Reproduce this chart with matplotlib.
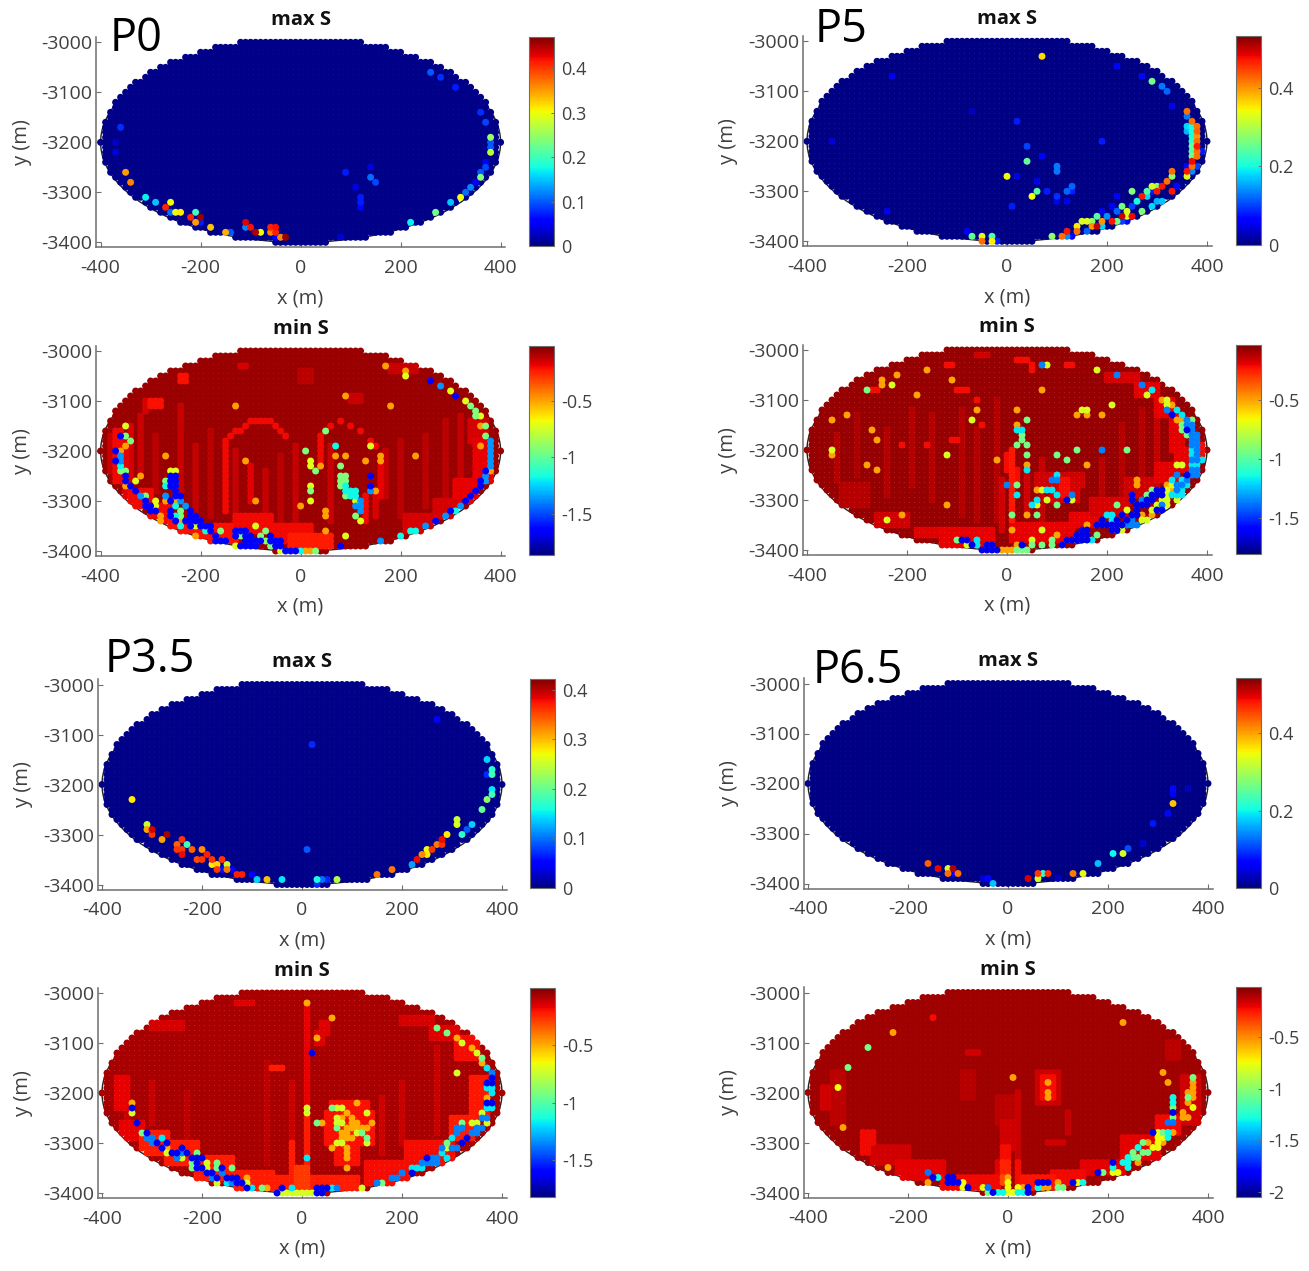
import numpy as np
import matplotlib
matplotlib.use('Agg')
import matplotlib.pyplot as plt
from matplotlib.patches import Ellipse
from matplotlib.cm import ScalarMappable
from matplotlib.colors import Normalize

plt.rcParams['font.family'] = ['Open Sans', 'DejaVu Sans']
plt.rcParams['axes.unicode_minus'] = False

W, H = 1309, 1271
GRAY = '#404040'
AXC = '#6e6e6e'

# fault plane sampling: 10 m grid, everything else is the background level
x_nodes = np.arange(-400, 401, 10)
y_nodes = np.arange(-3000, -3401, -10)

# max S: nodes that stand out, (x, y, S)
p0_max = [(-360,-3170,.08),(-370,-3200,.03),(-370,-3220,.04),(-350,-3260,.35),(-340,-3280,.36),(-310,-3310,.17),
    (-290,-3320,.15),(-260,-3320,.3),(-270,-3330,.41),(-260,-3340,.11),(-250,-3340,.3),(-240,-3340,.31),(-210,-3340,.2),
    (-220,-3350,.41),(-200,-3350,.46),(-210,-3360,.35),(-200,-3360,.07),(-180,-3370,.33),(-150,-3380,.34),(-140,-3380,.1),
    (-110,-3360,.43),(-110,-3370,.12),(-100,-3370,.42),(-90,-3380,.45),(-80,-3380,.3),(-60,-3370,.41),(-50,-3370,.42),
    (-60,-3380,.36),(-50,-3380,.41),(-40,-3390,.36),(-30,-3390,.46),(-50,-3390,.06),(90,-3260,.07),(140,-3250,.04),
    (140,-3270,.11),(150,-3280,.09),(110,-3290,.04),(120,-3310,.07),(120,-3320,.07),(120,-3330,.06),(80,-3390,.04),
    (260,-3060,.1),(280,-3070,.08),(310,-3090,.07),(360,-3140,.08),(370,-3160,.09),(380,-3190,.25),(380,-3200,.1),
    (380,-3210,.1),(380,-3220,.27),(370,-3240,.06),(370,-3250,.09),(360,-3260,.1),(360,-3270,.24),(350,-3280,.05),
    (340,-3290,.12),(330,-3300,.11),(320,-3310,.3),(300,-3320,.15),(270,-3340,.23),(220,-3360,.17)]

p5_max = [(70,-3030,.36),(220,-3050,.06),(270,-3070,.07),(290,-3080,.26),(310,-3090,.13),(320,-3100,.12),(330,-3130,.05),
    (360,-3140,.42),(360,-3150,.13),(370,-3160,.42),(380,-3170,.42),(360,-3170,.18),(370,-3170,.2),(360,-3180,.16),
    (370,-3180,.2),(380,-3180,.43),(370,-3190,.2),(380,-3190,.4),(370,-3200,.22),(380,-3200,.42),(370,-3210,.25),
    (380,-3210,.47),(370,-3220,.24),(380,-3220,.42),(370,-3230,.26),(380,-3230,.42),(390,-3220,.08),(370,-3240,.48),
    (360,-3250,.07),(370,-3250,.42),(380,-3250,.1),(360,-3260,.47),(370,-3260,.14),(360,-3270,.33),(330,-3260,.42),
    (330,-3270,.28),(320,-3280,.42),(310,-3290,.47),(290,-3290,.32),(300,-3290,.27),(340,-3290,.07),(280,-3300,.24),
    (300,-3300,.47),(290,-3300,.08),(330,-3300,.47),(250,-3300,.27),(270,-3310,.47),(280,-3310,.18),(220,-3310,.06),
    (260,-3320,.2),(300,-3320,.16),(310,-3320,.17),(290,-3330,.18),(250,-3330,.1),(230,-3330,.26),(210,-3330,.06),
    (270,-3340,.27),(240,-3340,.33),(220,-3340,.12),(190,-3340,.05),(180,-3350,.24),(200,-3350,.14),(230,-3350,.5),
    (240,-3350,.33),(250,-3350,.48),(150,-3360,.33),(160,-3360,.33),(170,-3360,.28),(190,-3360,.4),(210,-3360,.47),
    (220,-3360,.26),(230,-3360,.1),(240,-3360,.07),(140,-3370,.35),(170,-3370,.4),(180,-3370,.5),(190,-3370,.18),
    (160,-3380,.12),(140,-3380,.42),(120,-3380,.47),(90,-3390,.28),(110,-3390,.42),(120,-3390,.14),(130,-3390,.06),
    (-80,-3380,.06),(-70,-3390,.25),(-50,-3390,.33),(-30,-3390,.24),(-50,-3400,.42),(-30,-3400,.35),(-20,-3400,.08),
    (20,-3160,.08),(40,-3210,.1),(40,-3240,.25),(70,-3230,.06),(100,-3250,.13),(100,-3260,.13),(0,-3270,.34),
    (20,-3270,.05),(60,-3280,.05),(60,-3300,.24),(50,-3310,.34),(80,-3300,.08),(100,-3310,.09),(100,-3320,.05),
    (120,-3320,.05),(120,-3300,.12),(130,-3290,.12),(130,-3300,.08),(10,-3330,.08),(190,-3200,.08),(-70,-3140,.03),
    (-230,-3070,.05),(-350,-3200,.04),(-240,-3340,.05)]

p35_max = [(270,-3070,.05),(20,-3120,.07),(370,-3150,.14),(380,-3170,.17),(380,-3180,.18),(370,-3180,.07),(380,-3210,.15),
    (380,-3220,.18),(370,-3230,.22),(360,-3250,.2),(-340,-3230,.28),(310,-3270,.25),(310,-3280,.26),(340,-3280,.14),
    (330,-3290,.09),(320,-3300,.17),(290,-3300,.28),(280,-3310,.38),(270,-3320,.33),(280,-3320,.36),(250,-3330,.27),
    (260,-3330,.36),(240,-3340,.32),(250,-3340,.28),(230,-3350,.38),(220,-3360,.12),(180,-3370,.33),(150,-3380,.33),
    (10,-3330,.09),(-310,-3280,.25),(-310,-3290,.31),(-300,-3290,.39),(-300,-3300,.36),(-270,-3300,.41),(-280,-3310,.31),
    (-240,-3310,.36),(-250,-3320,.34),(-230,-3320,.18),(-220,-3330,.34),(-250,-3330,.36),(-240,-3330,.36),(-200,-3330,.32),
    (-240,-3340,.38),(-190,-3340,.37),(-210,-3350,.35),(-200,-3350,.36),(-180,-3350,.36),(-160,-3350,.36),(-180,-3360,.28),
    (-170,-3360,.29),(-150,-3360,.25),(-170,-3370,.36),(-160,-3370,.06),(-150,-3370,.33),(-140,-3370,.05),(-130,-3380,.37),
    (-120,-3380,.37),(-100,-3380,.05),(-90,-3390,.14),(-70,-3390,.3),(-40,-3390,.15),(30,-3390,.16),(40,-3390,.1),
    (50,-3390,.07),(70,-3390,.24),(30,-3400,.07)]

p65_max = [(330,-3210,.07),(330,-3220,.06),(360,-3210,.03),(330,-3240,.38),(320,-3260,.07),(290,-3280,.08),(270,-3320,.04),
    (240,-3330,.11),(230,-3340,.33),(210,-3340,.2),(180,-3360,.17),(150,-3380,.34),(130,-3380,.42),(80,-3380,.47),
    (70,-3380,.22),(60,-3380,.46),(60,-3390,.33),(40,-3390,.5),(100,-3390,.03),(-30,-3400,.17),(-40,-3390,.07),
    (-50,-3390,.04),(-100,-3380,.43),(-110,-3380,.06),(-120,-3380,.43),(-120,-3370,.33),(-110,-3370,.52),(-140,-3370,.49),
    (-160,-3360,.44)]

# min S levels by colour band, then the nodes that sit in each band
s_levels = [-1.64, -1.36, -1.18, -.94, -.72, -.5]
s_levels_65 = [-1.85, -1.55, -1.3, -1.05, -.75, -.55]

p0_blue = [(-360,-3170),(-370,-3200),(-370,-3220),(-350,-3250),(-350,-3260),(-340,-3270),(-330,-3280),(-310,-3300),
    (-310,-3310),(-300,-3310),(-300,-3320),(-290,-3320),(-260,-3250),(-260,-3260),(-260,-3270),(-250,-3250),(-250,-3260),
    (-250,-3270),(-250,-3280),(-250,-3290),(-240,-3290),(-260,-3300),(-260,-3320),(-260,-3330),(-220,-3320),(-220,-3330),
    (-210,-3330),(-220,-3340),(-210,-3340),(-200,-3340),(-220,-3350),(-200,-3350),(-190,-3350),(-180,-3350),(-250,-3340),
    (-230,-3340),(-180,-3360),(-170,-3370),(-170,-3380),(-160,-3380),(-150,-3380),(-130,-3360),(-120,-3360),(-110,-3360),
    (-130,-3370),(-110,-3370),(-100,-3370),(-110,-3380),(-100,-3380),(-90,-3380),(-80,-3380),(-120,-3390),(-110,-3390),
    (-100,-3390),(-90,-3390),(-60,-3370),(-60,-3380),(-50,-3380),(-40,-3380),(-50,-3390),(-40,-3390),(-30,-3400),
    (-20,-3400),(-10,-3400),(80,-3390),(260,-3060),(310,-3090),(360,-3260),(360,-3270),(350,-3280),(340,-3290),(330,-3300),
    (300,-3320),(270,-3340),(370,-3240),(140,-3250),(140,-3270)]
p0_azure = [(-360,-3210),(-360,-3220),(-270,-3290),(-320,-3290),(-240,-3300),(-230,-3310),(280,-3070),(380,-3180),
    (380,-3190),(380,-3200),(380,-3210),(380,-3220),(380,-3230),(370,-3250),(370,-3260),(320,-3310),(290,-3330),(250,-3350),
    (160,-3380),(120,-3300),(120,-3310),(120,-3320),(110,-3310),(140,-3280)]
p0_cyan = [(-360,-3230),(-270,-3270),(-250,-3310),(-250,-3330),(-240,-3350),(70,-3190),(90,-3270),(90,-3280),(100,-3280),
    (110,-3280),(100,-3290),(110,-3290),(310,-3320),(230,-3360),(220,-3360),(200,-3370),(0,-3400),(-190,-3360)]
p0_green = [(-350,-3170),(-340,-3180),(-360,-3240),(-350,-3240),(-270,-3260),(-310,-3290),(-240,-3320),(-240,-3330),
    (-120,-3370),(-70,-3360),(-80,-3370),(-70,-3380),(-60,-3390),(30,-3400),(50,-3160),(10,-3200),(30,-3240),(80,-3230),
    (80,-3250),(90,-3250),(80,-3260),(90,-3260),(80,-3270),(90,-3290),(20,-3280),(110,-3330),(340,-3110),(350,-3120),
    (350,-3130),(370,-3150),(370,-3170),(-160,-3360)]
p0_yellow = [(-350,-3150),(-260,-3240),(-250,-3240),(-290,-3300),(-290,-3310),(-330,-3260),(-210,-3350),(-130,-3390),
    (-90,-3350),(-40,-3400),(20,-3220),(20,-3230),(20,-3270),(20,-3300),(110,-3300),(120,-3340),(140,-3190),(90,-3370),
    (300,-3080),(330,-3100),(360,-3130),(210,-3050)]
p0_orange = [(-320,-3250),(-270,-3210),(-350,-3270),(-270,-3300),(-250,-3300),(-280,-3330),(-280,-3340),(-240,-3340),
    (-130,-3110),(-110,-3220),(-90,-3300),(0,-3310),(50,-3320),(50,-3360),(50,-3330),(70,-3210),(90,-3210),(160,-3210),
    (160,-3220),(130,-3220),(150,-3280),(170,-3030),(210,-3040),(180,-3110),(90,-3090),(230,-3210),(360,-3190),(380,-3240),
    (10,-3400),(20,-3400),(-210,-3370),(40,-3230),(360,-3150),(-350,-3190),(-360,-3200)]
# (x from, x to, y from, y to, S) stretches of the weaker and stronger red
p0_blocks = [(-380,-380,-3170,-3240,-.14),(-350,-350,-3180,-3290,-.18),(-340,-340,-3150,-3300,-.16),(-370,-360,-3160,-3260,-.2),
    (-320,-320,-3130,-3240,-.14),(-300,-280,-3100,-3110,-.22),(-310,-310,-3100,-3120,-.16),(-240,-230,-3050,-3060,-.22),
    (-290,-290,-3170,-3280,-.12),(-240,-240,-3110,-3280,-.14),(-210,-210,-3190,-3320,-.13),(-180,-180,-3160,-3330,-.12),
    (-150,-150,-3180,-3320,-.2),(-130,-130,-3200,-3330,-.13),(-100,-100,-3230,-3300,-.18),(-70,-70,-3240,-3330,-.13),
    (-40,-40,-3210,-3340,-.12),(-10,-10,-3190,-3360,-.13),(-100,-60,-3140,-3140,-.2),(-110,-110,-3150,-3150,-.2),
    (-50,-50,-3150,-3150,-.2),(-130,-120,-3160,-3160,-.2),(-40,-40,-3160,-3160,-.2),(-30,-30,-3170,-3170,-.2),
    (-140,-140,-3170,-3170,-.2),(40,40,-3170,-3230,-.2),(60,60,-3150,-3150,-.2),(80,80,-3140,-3140,-.2),
    (100,100,-3150,-3150,-.2),(120,120,-3160,-3160,-.2),(140,140,-3180,-3180,-.2),(150,150,-3190,-3190,-.2),
    (160,160,-3230,-3290,-.19),(150,150,-3290,-3330,-.17),(130,130,-3290,-3340,-.2),(170,170,-3200,-3290,-.13),
    (60,60,-3190,-3340,-.14),(200,200,-3180,-3330,-.12),(250,250,-3170,-3310,-.12),(290,290,-3140,-3310,-.12),
    (320,320,-3130,-3290,-.13),(340,370,-3140,-3180,-.16),(350,380,-3180,-3260,-.19),(310,350,-3260,-3300,-.19),
    (270,320,-3300,-3330,-.16),(210,270,-3330,-3360,-.16),(-340,-300,-3280,-3310,-.2),(-300,-260,-3310,-3340,-.2),
    (-260,-200,-3340,-3360,-.22),(-200,-130,-3350,-3380,-.22),(-130,-60,-3330,-3360,-.2),(-60,20,-3350,-3380,-.2),
    (-20,60,-3370,-3390,-.24),(180,230,-3030,-3040,-.14),(-120,-110,-3030,-3030,-.16),(0,20,-3040,-3060,-.12),(100,120,-3090,-3100,-.14)]

p5_blue = [(330,-3130),(360,-3160),(360,-3250),(300,-3280),(310,-3280),(250,-3290),(290,-3290),(300,-3290),(310,-3290),
    (250,-3300),(280,-3300),(290,-3300),(260,-3310),(270,-3310),(280,-3310),(260,-3320),(300,-3320),(310,-3320),(230,-3330),
    (250,-3330),(260,-3330),(190,-3340),(220,-3340),(240,-3340),(180,-3350),(190,-3350),(200,-3350),(210,-3350),(220,-3350),
    (230,-3350),(150,-3360),(160,-3360),(210,-3360),(220,-3360),(140,-3370),(150,-3370),(160,-3370),(120,-3380),(130,-3380),
    (140,-3380),(150,-3380),(160,-3380),(110,-3390),(30,-3390),(-90,-3380),(-80,-3380),(-70,-3390),(-40,-3390),(-30,-3390),
    (-50,-3400),(-40,-3400),(-30,-3400),(-20,-3400),(120,-3300)]
p5_azure = [(70,-3030),(220,-3050),(270,-3070),(320,-3120),(360,-3140),(360,-3150),(370,-3150),(370,-3160),(370,-3170),
    (380,-3170),(370,-3180),(380,-3180),(370,-3190),(380,-3190),(380,-3200),(380,-3210),(370,-3220),(380,-3220),(370,-3240),
    (380,-3240),(380,-3250),(370,-3250),(340,-3250),(360,-3260),(340,-3270),(350,-3270),(340,-3280),(270,-3300),(310,-3310),
    (250,-3340),(240,-3350),(250,-3350),(260,-3350),(190,-3200),(0,-3270),(130,-3290),(90,-3260),(100,-3260)]
p5_cyan = [(290,-3080),(350,-3130),(340,-3120),(370,-3200),(370,-3210),(390,-3220),(370,-3230),(380,-3230),(330,-3260),
    (350,-3260),(360,-3270),(350,-3280),(330,-3290),(340,-3290),(350,-3290),(200,-3330),(210,-3330),(210,-3340),(170,-3380),
    (-60,-3380),(-60,-3390),(20,-3160),(30,-3160),(40,-3240),(100,-3250),(20,-3290),(80,-3280),(90,-3280),(100,-3290),
    (60,-3300),(50,-3310)]
p5_green = [(370,-3140),(360,-3170),(290,-3280),(280,-3290),(220,-3310),(-100,-3380),(90,-3380),(70,-3390),(90,-3390),
    (50,-3390),(20,-3400),(30,-3400),(40,-3400),(30,-3170),(30,-3180),(40,-3140),(20,-3190),(40,-3190),(40,-3210),
    (100,-3210),(120,-3220),(140,-3200),(240,-3200),(20,-3270),(100,-3310),(10,-3330),(60,-3330),(-280,-3080),(180,-3370),
    (350,-3150),(350,-3160)]
p5_yellow = [(80,-3030),(180,-3040),(280,-3090),(320,-3100),(320,-3110),(340,-3230),(350,-3230),(330,-3270),(320,-3280),
    (320,-3290),(310,-3300),(320,-3300),(340,-3300),(300,-3310),(320,-3310),(240,-3320),(290,-3320),(270,-3340),(280,-3340),
    (230,-3360),(70,-3360),(50,-3380),(-80,-3390),(-70,-3140),(-120,-3210),(-240,-3340),(-350,-3200),(-230,-3070),
    (150,-3120),(160,-3120),(210,-3110),(70,-3280),(80,-3300),(130,-3300),(60,-3310)]
p5_orange = [(310,-3100),(330,-3110),(340,-3140),(350,-3140),(330,-3280),(320,-3270),(270,-3330),(290,-3330),(100,-3370),
    (20,-3390),(10,-3360),(0,-3400),(-10,-3400),(10,-3400),(20,-3150),(40,-3230),(60,-3280),(40,-3330),(-60,-3120),
    (-110,-3060),(-20,-3220),(-120,-3310),(-210,-3330),(-350,-3210),(-350,-3140),(-320,-3130),(-270,-3160),(-260,-3180),
    (-280,-3230),(-260,-3240),(-250,-3060),(-250,-3070),(-180,-3090),(-160,-3040),(-220,-3050),(140,-3130),(160,-3130),
    (190,-3130),(70,-3080),(20,-3120),(160,-3350),(160,-3230),(260,-3260),(260,-3270)]
p5_blocks = [(-340,-340,-3170,-3260,-.12),(-300,-300,-3130,-3250,-.11),(-240,-240,-3160,-3290,-.12),(-190,-190,-3120,-3270,-.12),
    (-150,-150,-3130,-3300,-.12),(-90,-90,-3120,-3330,-.12),(-60,-60,-3160,-3340,-.12),(-20,-20,-3100,-3340,-.12),
    (-10,-10,-3260,-3360,-.16),(10,10,-3200,-3340,-.24),(0,0,-3210,-3240,-.22),(20,20,-3240,-3260,-.22),(40,40,-3250,-3330,-.16),
    (70,70,-3220,-3340,-.14),(60,150,-3250,-3270,-.16),(90,140,-3270,-3300,-.17),(110,120,-3260,-3290,-.22),(190,190,-3220,-3330,-.13),
    (230,230,-3150,-3310,-.12),(270,270,-3120,-3290,-.12),(300,300,-3130,-3270,-.14),(390,390,-3190,-3210,-.22),
    (-120,-110,-3030,-3030,-.22),(-60,-40,-3010,-3010,-.16),(20,40,-3020,-3020,-.22),(50,50,-3030,-3040,-.22),(120,130,-3030,-3030,-.22),
    (-100,-80,-3080,-3080,-.22),(-270,-260,-3080,-3080,-.22),(-110,-100,-3180,-3180,-.22),(-160,-160,-3190,-3190,-.22),
    (-210,-210,-3190,-3190,-.22),(-50,-50,-3150,-3150,-.22),(-60,-60,-3100,-3100,-.22),(-330,-280,-3270,-3310,-.12),
    (-260,-200,-3330,-3350,-.16),(-180,-140,-3360,-3370,-.18),(-130,-30,-3360,-3390,-.2),(10,130,-3350,-3380,-.2),
    (130,190,-3330,-3350,-.2),(170,240,-3300,-3330,-.17),(240,300,-3260,-3290,-.16),(200,260,-3050,-3060,-.17),(260,300,-3070,-3090,-.19),
    (300,330,-3100,-3130,-.2),(330,350,-3130,-3200,-.19),(340,360,-3200,-3240,-.2),(300,340,-3230,-3260,-.19)]

p35_blue = [(20,-3120),(380,-3170),(380,-3180),(370,-3180),(370,-3220),(380,-3220),(330,-3290),(320,-3300),(250,-3330),
    (220,-3360),(-340,-3230),(-330,-3260),(-310,-3280),(-290,-3300),(-270,-3300),(-280,-3310),(-240,-3310),(-260,-3320),
    (-250,-3320),(-230,-3320),(-220,-3330),(-210,-3330),(-200,-3330),(-210,-3340),(-210,-3350),(-200,-3350),(-160,-3350),
    (-190,-3360),(-180,-3360),(-170,-3370),(-150,-3370),(-140,-3370),(-130,-3370),(-130,-3380),(-120,-3380),(-110,-3390),
    (-40,-3390),(-50,-3400),(30,-3400),(40,-3400),(30,-3390),(40,-3390),(50,-3390)]
p35_azure = [(380,-3160),(360,-3250),(370,-3250),(310,-3270),(320,-3270),(350,-3270),(360,-3270),(310,-3280),(340,-3280),
    (350,-3280),(280,-3310),(300,-3310),(310,-3310),(260,-3330),(270,-3330),(240,-3340),(250,-3340),(260,-3340),(270,-3340),
    (200,-3360),(180,-3370),(190,-3370),(150,-3380),(-310,-3290),(-300,-3290),(-300,-3300),(-240,-3320),(-250,-3330),
    (-160,-3360),(-180,-3370),(-140,-3380),(70,-3390)]
p35_cyan = [(370,-3150),(380,-3190),(380,-3200),(370,-3190),(370,-3230),(380,-3230),(300,-3290),(280,-3320),(290,-3330),
    (220,-3350),(230,-3350),(240,-3350),(-280,-3290),(-150,-3380),(-100,-3390),(-20,-3390),(10,-3330),(60,-3390)]
p35_green = [(270,-3070),(290,-3080),(360,-3130),(320,-3260),(290,-3300),(160,-3380),(-320,-3280),(-210,-3320),(-220,-3340),
    (-220,-3350),(-170,-3340),(-170,-3350),(-140,-3350),(-80,-3390),(30,-3260),(60,-3230),(70,-3270),(120,-3280),(130,-3290)]
p35_yellow = [(320,-3100),(350,-3120),(310,-3160),(360,-3240),(340,-3260),(350,-3260),(370,-3260),(290,-3310),(120,-3390),
    (-340,-3240),(-270,-3320),(-240,-3330),(-190,-3340),(-190,-3350),(-170,-3380),(-110,-3380),(-40,-3400),(-30,-3400),
    (-20,-3400),(-10,-3400),(0,-3400),(10,-3400),(20,-3400),(70,-3230),(80,-3230),(130,-3240),(10,-3230),(10,-3240),
    (70,-3250),(70,-3260),(80,-3260),(110,-3280),(130,-3300),(70,-3300),(80,-3300)]
p35_orange = [(10,-3020),(30,-3090),(60,-3050),(310,-3090),(340,-3110),(360,-3140),(370,-3210),(-270,-3310),(-340,-3220),
    (-110,-3370),(-70,-3390),(90,-3240),(110,-3220),(40,-3260),(100,-3260),(110,-3260),(110,-3270),(100,-3270),(140,-3260),
    (80,-3280),(90,-3280),(90,-3290),(60,-3310),(90,-3310),(90,-3320),(90,-3330),(90,-3350),(120,-3270),(130,-3270),
    (80,-3250),(100,-3250),(90,-3270),(80,-3290),(100,-3290)]
p35_blocks = [(-350,-350,-3170,-3250,-.12),(-300,-300,-3180,-3260,-.12),(-230,-230,-3200,-3300,-.11),(-70,-70,-3140,-3340,-.11),
    (-20,-20,-3180,-3300,-.12),(10,10,-3030,-3220,-.17),(10,10,-3230,-3350,-.22),(-20,-20,-3300,-3380,-.22),(40,50,-3060,-3080,-.16),
    (30,40,-3080,-3100,-.16),(60,130,-3220,-3230,-.2),(50,140,-3240,-3300,-.2),(70,110,-3300,-3340,-.2),(160,160,-3210,-3320,-.13),
    (200,200,-3180,-3300,-.12),(270,270,-3110,-3280,-.12),(-60,-40,-3150,-3150,-.22),(-370,-350,-3170,-3230,-.17),
    (-360,-320,-3260,-3290,-.17),(-320,-270,-3280,-3320,-.22),(-270,-210,-3300,-3340,-.22),(-210,-140,-3330,-3370,-.22),
    (-140,-60,-3360,-3390,-.22),(-60,110,-3370,-3390,-.22),(-10,10,-3350,-3390,-.28),(340,370,-3170,-3250,-.21),(300,340,-3250,-3290,-.22),
    (210,300,-3300,-3340,-.19),(130,210,-3340,-3380,-.19),(200,260,-3050,-3060,-.14),(260,310,-3070,-3090,-.16),(310,350,-3090,-3130,-.19),
    (-300,-240,-3060,-3070,-.14),(-130,-100,-3020,-3020,-.16)]

p65_blue = [(210,-3340),(180,-3360),(330,-3240),(290,-3280),(130,-3380),(60,-3380),(70,-3380),(80,-3380),(40,-3390),
    (-80,-3390),(-120,-3370),(-110,-3370),(-120,-3380),(-110,-3380),(-100,-3380),(-150,-3370),(-30,-3400),(40,-3400)]
p65_azure = [(320,-3260),(330,-3260),(-160,-3360),(-40,-3390)]
p65_cyan = [(330,-3210),(330,-3220),(320,-3280),(320,-3290),(260,-3310),(240,-3330),(230,-3340),(240,-3340),(210,-3350),
    (240,-3350),(150,-3380),(60,-3390),(-140,-3370),(-20,-3400),(-10,-3400),(20,-3400),(30,-3400)]
p65_green = [(-320,-3150),(370,-3170),(330,-3230),(330,-3250),(310,-3280),(270,-3300),(250,-3320),(270,-3320),(280,-3320),
    (250,-3330),(260,-3330),(190,-3360),(100,-3390),(110,-3390),(-40,-3400),(-280,-3110),(360,-3210)]
p65_yellow = [(-340,-3190),(370,-3230),(300,-3280),(300,-3290),(310,-3290),(300,-3300),(290,-3310),(300,-3310),(210,-3360),
    (220,-3360),(140,-3380),(20,-3390),(0,-3380),(0,-3390),(-50,-3390),(-90,-3380),(-90,-3390),(0,-3400),(10,-3400)]
p65_orange = [(-230,-3080),(10,-3170),(230,-3060),(310,-3160),(320,-3180),(370,-3180),(370,-3190),(360,-3200),(370,-3200),
    (370,-3210),(360,-3220),(350,-3240),(350,-3250),(360,-3250),(330,-3280),(280,-3300),(310,-3300),(260,-3340),(100,-3380),
    (70,-3390),(80,-3390),(30,-3390),(0,-3370),(-160,-3380),(-240,-3350),(-330,-3270),(80,-3180),(80,-3200),(80,-3210)]
p65_blocks = [(-350,-330,-3160,-3260,-.12),(-370,-360,-3190,-3230,-.16),(-20,10,-3210,-3260,-.12),(-10,10,-3260,-3310,-.16),(-10,0,-3310,-3340,-.22),
    (-10,0,-3340,-3370,-.27),(-10,0,-3370,-3380,-.36),(20,20,-3200,-3340,-.14),(20,20,-3340,-3380,-.22),(-20,-20,-3340,-3390,-.18),
    (60,100,-3160,-3220,-.15),(70,90,-3170,-3210,-.22),(120,120,-3240,-3280,-.13),(80,110,-3300,-3300,-.16),(350,380,-3170,-3260,-.16),
    (300,340,-3250,-3280,-.21),(230,300,-3290,-3330,-.19),(150,230,-3340,-3360,-.19),(90,150,-3360,-3380,-.21),(-290,-270,-3280,-3320,-.21),
    (-270,-200,-3310,-3340,-.16),(-220,-130,-3340,-3370,-.19),(-130,-20,-3370,-3390,-.21),(30,90,-3370,-3390,-.24),
    (-90,-70,-3160,-3210,-.11),(-80,-60,-3120,-3120,-.16),(-150,-150,-3050,-3050,-.22),(320,340,-3100,-3130,-.12)]

# each entry: title, px of x=0, px of y=-3000, colorbar box, colour limits, colorbar ticks, max nodes, min nodes
panels = [
    ('max S', 300.6, 42.3, (529, 554, 37, 246), (0, .47), [0, .1, .2, .3, .4], p0_max, None),
    ('min S', 300.6, 351, (529, 554, 346, 555), (-1.86, -.02), [-1.5, -1, -.5], None,
     (p0_blue, p0_azure, p0_cyan, p0_green, p0_yellow, p0_orange, p0_blocks, s_levels)),
    ('max S', 1007, 41.3, (1236, 1261, 36, 245), (0, .532), [0, .2, .4], p5_max, None),
    ('min S', 1007, 350, (1236, 1261, 345, 554), (-1.805, -.034), [-1.5, -1, -.5], None,
     (p5_blue, p5_azure, p5_cyan, p5_green, p5_yellow, p5_orange, p5_blocks, s_levels)),
    ('max S', 302, 684.5, (530, 555, 679, 888), (0, .422), [0, .1, .2, .3, .4], p35_max, None),
    ('min S', 302, 993, (530, 555, 988, 1197), (-1.82, -.004), [-1.5, -1, -.5], None,
     (p35_blue, p35_azure, p35_cyan, p35_green, p35_yellow, p35_orange, p35_blocks, s_levels)),
    ('max S', 1008, 683.5, (1236, 1261, 678, 888), (0, .542), [0, .2, .4], p65_max, None),
    ('min S', 1008, 992.5, (1236, 1261, 987, 1197), (-2.05, -.01), [-2, -1.5, -1, -.5], None,
     (p65_blue, p65_azure, p65_cyan, p65_green, p65_yellow, p65_orange, p65_blocks, s_levels_65)),
]

big_labels = [('P0', 110, 39), ('P5', 815, 30), ('P3.5', 105, 660), ('P6.5', 813, 671)]


def px_box(left, right, top, bottom):
    return [left / W, 1 - bottom / H, (right - left) / W, (bottom - top) / H]


X, Y = np.meshgrid(x_nodes, y_nodes, indexing='ij')
inside = (X / 400.0) ** 2 + ((Y + 3196) / 206.0) ** 2 <= 1.0004
Xp, Yp = X[inside], Y[inside]


def set_cell(S, x, y, val):
    S[(Xp == x) & (Yp == y)] = val


fig = plt.figure(figsize=(W / 100, H / 100), dpi=100)

for title, x0, y3000, cb, lim, cticks, hot, cold in panels:
    ax = fig.add_axes(px_box(x0 - 204.5, x0 + 204.5, y3000 - 5.3, y3000 + 205))
    ax.set_xlim(-409, 409)
    ax.set_ylim(-3410, -2989.4)

    if hot is not None:
        base = 0.004
        S = np.full(Xp.shape, base)
        for x, y, v in hot:
            set_cell(S, x, y, v)
    else:
        base = -.07
        S = np.full(Xp.shape, base)
        for x1, x2, y1, y2, v in cold[6]:
            S[(Xp >= x1) & (Xp <= x2) & (Yp <= y1) & (Yp >= y2)] = v
        for cells, v in zip(cold[:6], cold[7]):
            for x, y in cells:
                set_cell(S, x, y, v)

    # strongest nodes go on top so their neighbours don't cover them
    order = np.argsort(np.abs(S - base), kind='stable')

    ax.add_patch(Ellipse((0, -3200), 800, 400, fill=False, ec='#222222', lw=1.0, zorder=1))
    ax.scatter(Xp[order], Yp[order], c=S[order], cmap='jet', vmin=lim[0], vmax=lim[1], s=25,
               linewidths=0, zorder=2, clip_on=False)

    for side in ('top', 'right'):
        ax.spines[side].set_visible(False)
    for side in ('left', 'bottom'):
        ax.spines[side].set_color(AXC)
        ax.spines[side].set_linewidth(1.1)
    ax.set_xticks([-400, -200, 0, 200, 400])
    ax.set_yticks([-3400, -3300, -3200, -3100, -3000])
    ax.tick_params(direction='in', length=3.6, width=.8, color=AXC, labelcolor=GRAY, labelsize=14, pad=2.5)
    ax.tick_params(axis='x', pad=8.5)
    ax.set_xlabel('x (m)', color=GRAY, fontsize=14.5, labelpad=8)
    ax.set_ylabel('y (m)', color=GRAY, fontsize=14.5, labelpad=7)
    fig.text(x0 / W, 1 - (y3000 - 22.5) / H, title, ha='center', va='center', fontsize=14.5,
             fontweight='bold', color='#111111')

    cax = fig.add_axes(px_box(*cb))
    sm = ScalarMappable(norm=Normalize(*lim), cmap='jet')
    cbar = fig.colorbar(sm, cax=cax, ticks=cticks)
    cbar.ax.set_yticklabels(['%g' % t for t in cticks])
    cbar.ax.tick_params(direction='in', length=2.5, width=.7, color=AXC, labelcolor=GRAY, labelsize=13, pad=5)
    cbar.outline.set_edgecolor(AXC)
    cbar.outline.set_linewidth(.8)

for txt, px, py in big_labels:
    fig.text(px / W, 1 - py / H, txt, ha='left', va='center', fontsize=32.5, color='black')

fig.savefig('out.png', dpi=100)
